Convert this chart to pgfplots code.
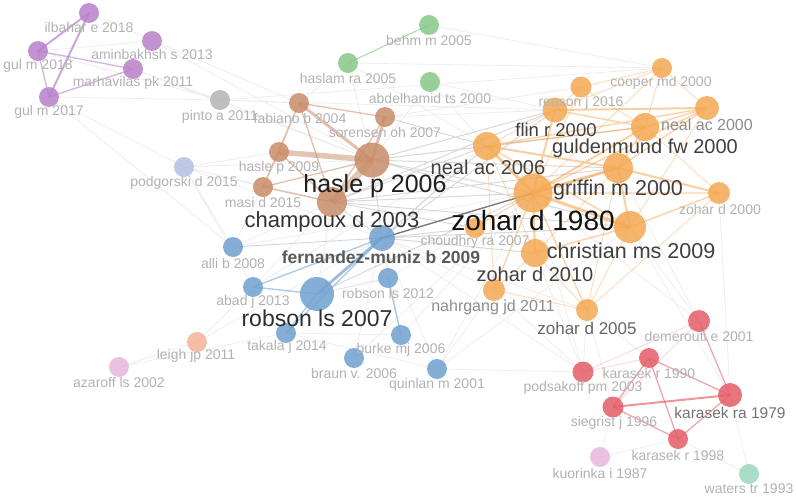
\documentclass[border=0pt]{standalone}
\usepackage{pgfplots}
\usepackage{pgfplotstable}
\pgfplotsset{compat=1.18}
\usepackage{fontspec}
\setmainfont{Liberation Sans}
\definecolor{cpur}{RGB}{183,128,200}
\definecolor{cbrn}{RGB}{200,140,105}
\definecolor{cgrn}{RGB}{135,200,135}
\definecolor{corg}{RGB}{245,168,82}
\definecolor{cblu}{RGB}{112,160,208}
\definecolor{cred}{RGB}{228,92,102}
\definecolor{cgry}{RGB}{180,180,180}
\definecolor{clav}{RGB}{180,190,225}
\definecolor{csal}{RGB}{245,178,152}
\definecolor{cpnk}{RGB}{232,182,222}
\definecolor{cmnt}{RGB}{155,215,192}

\pgfplotstableread{
x y r
89 13 10
152 41 10
38 51 10
133 69 10
49 97 10
}\tPur
\pgfplotstableread{
x y r
220 100 10
}\tGry
\pgfplotstableread{
x y r
184 167 10
}\tLav
\pgfplotstableread{
x y r
299 103 10
385 117 10
279 152 10
263 187 10
372 160 17.5
332 202 15
}\tBrn
\pgfplotstableread{
x y r
429 25 10
348 63 10
430 82 10
}\tGrn
\pgfplotstableread{
x y r
662 68 10
581 87 10.5
707 108 12
555 110 12.5
645 127 14
487 146 14
618 168 15
533 193 19.5
719 193 11
630 227 16
475 228 10
535 253 14
494 290 11
587 310 11
}\tOrg
\pgfplotstableread{
x y r
382 238 13
233 247 10
253 287 10
317 294 17
388 278 10
286 333 10
401 335 10
354 358 10
437 369 10
}\tBlu
\pgfplotstableread{
x y r
197 342 10
}\tSal
\pgfplotstableread{
x y r
119 367 10
600 457 10
}\tPnk
\pgfplotstableread{
x y r
699 321 11
649 358 10
583 372 10.5
730 395 12
613 407 10.5
678 439 10
}\tRed
\pgfplotstableread{
x y r
749 474 10
}\tMnt

\pgfplotsset{
  netnode/.style={scatter, only marks, mark=*, point meta=\thisrow{r},
    scatter/use mapped color={draw=#1, fill=#1, draw opacity=0, fill opacity=0.85},
    visualization depends on={\thisrow{r} \as \perr},
    scatter/@pre marker code/.append style={/tikz/mark size=\perr}},
  lab/.style n args={3}{only marks, mark=*, mark size=0pt,
    mark options={draw=none, fill=none},
    point meta=explicit symbolic, nodes near coords,
    nodes near coords style={anchor=center, inner sep=0pt,
      font=\fontsize{#1}{#1}\fontseries{#3}\selectfont, text=black!#2}},
}

\begin{document}
\begin{tikzpicture}
\begin{axis}[width=796pt, height=498pt, scale only axis,
  xmin=0, xmax=796, ymin=0, ymax=498, y dir=reverse,
  hide axis, clip=false, unbounded coords=jump]

% faint grey links
\addplot[no marks, gray, opacity=0.14, line width=0.8pt] coordinates {
(220,100) (372,160) (nan,nan) (220,100) (49,97) (nan,nan) (220,100) (299,103) (nan,nan)
(220,100) (662,68) (nan,nan) (184,167) (332,202) (nan,nan) (184,167) (263,187) (nan,nan)
(184,167) (372,160) (nan,nan) (184,167) (253,287) (nan,nan) (184,167) (233,247) (nan,nan)
(184,167) (49,97) (nan,nan) (233,247) (332,202) (nan,nan) (233,247) (382,238) (nan,nan)
(197,342) (253,287) (nan,nan) (197,342) (119,367) (nan,nan) (197,342) (382,238) (nan,nan)
(119,367) (286,333) (nan,nan) (152,41) (372,160) (nan,nan) (133,69) (372,160) (nan,nan)
(133,69) (220,100) (nan,nan) (49,97) (233,247) (nan,nan) (348,63) (372,160) (nan,nan)
(348,63) (299,103) (nan,nan) (348,63) (487,146) (nan,nan) (429,25) (662,68) (nan,nan)
(430,82) (487,146) (nan,nan) (430,82) (372,160) (nan,nan) (430,82) (555,110) (nan,nan)
(385,117) (555,110) (nan,nan) (385,117) (581,87) (nan,nan) (437,369) (382,238) (nan,nan)
(437,369) (533,193) (nan,nan) (354,358) (382,238) (nan,nan) (401,335) (382,238) (nan,nan)
(401,335) (533,193) (nan,nan) (286,333) (437,369) (nan,nan) (286,333) (401,335) (nan,nan)
(583,372) (533,193) (nan,nan) (583,372) (535,253) (nan,nan) (583,372) (494,290) (nan,nan)
(583,372) (382,238) (nan,nan) (699,321) (533,193) (nan,nan) (699,321) (618,168) (nan,nan)
(699,321) (630,227) (nan,nan) (730,395) (630,227) (nan,nan) (730,395) (719,193) (nan,nan)
(613,407) (587,310) (nan,nan) (649,358) (587,310) (nan,nan) (600,457) (678,439) (nan,nan)
(600,457) (613,407) (nan,nan) (749,474) (678,439) (nan,nan) (749,474) (730,395) (nan,nan)
(437,369) (583,372) (nan,nan) (494,290) (382,238) (nan,nan) (587,310) (382,238) (nan,nan)
(388,278) (533,193) (nan,nan) (388,278) (382,238) (nan,nan) (317,294) (332,202) (nan,nan)
(253,287) (332,202) (nan,nan) (263,187) (233,247) (nan,nan) (279,152) (184,167) (nan,nan)
(494,290) (437,369) (nan,nan) (587,310) (583,372) (nan,nan) (152,41) (38,51) (nan,nan)
(89,13) (299,103) (nan,nan) (38,51) (220,100) (nan,nan) (348,63) (662,68) (nan,nan)
(220,100) (555,110) (nan,nan) (184,167) (382,238) (nan,nan) (233,247) (533,193) (nan,nan)
(253,287) (487,146) (nan,nan) (354,358) (533,193) (nan,nan) (437,369) (630,227)
};
% medium grey links
\addplot[no marks, gray, opacity=0.3, line width=1pt] coordinates {
(332,202) (533,193) (nan,nan) (372,160) (533,193) (nan,nan) (372,160) (487,146) (nan,nan)
(332,202) (487,146) (nan,nan) (382,238) (487,146) (nan,nan) (382,238) (630,227) (nan,nan)
(382,238) (618,168) (nan,nan) (372,160) (618,168) (nan,nan) (332,202) (475,228) (nan,nan)
(382,238) (475,228) (nan,nan) (382,238) (535,253) (nan,nan) (332,202) (555,110) (nan,nan)
(372,160) (555,110) (nan,nan) (382,238) (372,160) (nan,nan) (382,238) (332,202) (nan,nan)
(317,294) (533,193) (nan,nan) (332,202) (618,168) (nan,nan) (372,160) (630,227) (nan,nan)
(382,238) (555,110) (nan,nan) (372,160) (645,127) (nan,nan) (332,202) (630,227) (nan,nan)
(385,117) (487,146) (nan,nan) (317,294) (487,146)
};
\addplot[no marks, black, opacity=0.45, line width=1.4pt] coordinates {(382,238) (533,193)};

% purple links
\addplot[no marks, cpur, opacity=0.7, line width=2pt] coordinates {
(89,13) (38,51) (nan,nan) (89,13) (49,97)};
\addplot[no marks, cpur, opacity=0.6, line width=1.3pt] coordinates {
(38,51) (49,97) (nan,nan) (49,97) (133,69) (nan,nan) (38,51) (133,69)};
% brown links
\addplot[no marks, cbrn, opacity=0.5, line width=7pt] coordinates {(332,202) (372,160)};
\addplot[no marks, cbrn, opacity=0.5, line width=5.5pt] coordinates {(279,152) (372,160)};
\addplot[no marks, cbrn, opacity=0.55, line width=3pt] coordinates {
(299,103) (372,160) (nan,nan) (385,117) (372,160)};
\addplot[no marks, cbrn, opacity=0.55, line width=1.3pt] coordinates {
(299,103) (385,117) (nan,nan) (299,103) (279,152) (nan,nan) (299,103) (263,187) (nan,nan)
(299,103) (332,202) (nan,nan) (385,117) (332,202) (nan,nan) (263,187) (372,160) (nan,nan)
(263,187) (332,202) (nan,nan) (279,152) (263,187) (nan,nan) (279,152) (332,202)};
% green link
\addplot[no marks, cgrn, opacity=0.7, line width=1pt] coordinates {(348,63) (429,25)};
% blue links
\addplot[no marks, cblu, opacity=0.6, line width=3pt] coordinates {(382,238) (317,294)};
\addplot[no marks, cblu, opacity=0.55, line width=1.4pt] coordinates {
(382,238) (253,287) (nan,nan) (253,287) (317,294) (nan,nan) (317,294) (286,333) (nan,nan)
(286,333) (382,238) (nan,nan) (388,278) (401,335)};
\addplot[no marks, cblu, opacity=0.3, line width=0.8pt] coordinates {
(382,238) (233,247) (nan,nan) (317,294) (388,278)};
% red links
\addplot[no marks, cred, opacity=0.65, line width=2pt] coordinates {(613,407) (730,395)};
\addplot[no marks, cred, opacity=0.55, line width=1.3pt] coordinates {
(649,358) (730,395) (nan,nan) (649,358) (613,407) (nan,nan) (699,321) (730,395) (nan,nan)
(649,358) (678,439) (nan,nan) (613,407) (678,439) (nan,nan) (678,439) (730,395)};
\addplot[no marks, cred, opacity=0.25, line width=0.8pt] coordinates {
(699,321) (613,407) (nan,nan) (583,372) (649,358) (nan,nan) (699,321) (583,372)};
% orange links
\addplot[no marks, corg, opacity=0.6, line width=3pt] coordinates {
(533,193) (487,146) (nan,nan) (533,193) (618,168) (nan,nan) (533,193) (630,227)};
\addplot[no marks, corg, opacity=0.55, line width=2pt] coordinates {
(533,193) (555,110) (nan,nan) (533,193) (645,127) (nan,nan) (533,193) (535,253) (nan,nan)
(487,146) (618,168) (nan,nan) (555,110) (707,108) (nan,nan) (618,168) (630,227) (nan,nan)
(618,168) (719,193)};
\addplot[no marks, corg, opacity=0.5, line width=1.4pt] coordinates {
(533,193) (587,310) (nan,nan) (533,193) (494,290) (nan,nan) (533,193) (719,193) (nan,nan)
(533,193) (707,108) (nan,nan) (487,146) (630,227) (nan,nan) (487,146) (645,127) (nan,nan)
(487,146) (707,108) (nan,nan) (555,110) (645,127) (nan,nan) (618,168) (645,127) (nan,nan)
(618,168) (707,108) (nan,nan) (630,227) (535,253) (nan,nan) (630,227) (719,193) (nan,nan)
(645,127) (707,108)};
\addplot[no marks, corg, opacity=0.4, line width=0.9pt] coordinates {
(533,193) (475,228) (nan,nan) (533,193) (581,87) (nan,nan) (533,193) (662,68) (nan,nan)
(487,146) (555,110) (nan,nan) (487,146) (535,253) (nan,nan) (555,110) (581,87) (nan,nan)
(630,227) (587,310) (nan,nan) (535,253) (587,310) (nan,nan) (535,253) (494,290) (nan,nan)
(662,68) (645,127) (nan,nan) (662,68) (581,87) (nan,nan) (662,68) (707,108) (nan,nan)
(645,127) (719,193) (nan,nan) (630,227) (707,108) (nan,nan) (494,290) (587,310) (nan,nan)
(535,253) (618,168) (nan,nan) (587,310) (618,168) (nan,nan) (487,146) (494,290) (nan,nan)
(662,68) (555,110) (nan,nan) (581,87) (645,127) (nan,nan) (587,310) (719,193)};

% nodes
\addplot[netnode=cpur] table {\tPur};
\addplot[netnode=cgry] table {\tGry};
\addplot[netnode=clav] table {\tLav};
\addplot[netnode=cbrn] table {\tBrn};
\addplot[netnode=cgrn] table {\tGrn};
\addplot[netnode=corg] table {\tOrg};
\addplot[netnode=cblu] table {\tBlu};
\addplot[netnode=csal] table {\tSal};
\addplot[netnode=cpnk] table {\tPnk};
\addplot[netnode=cred] table {\tRed};
\addplot[netnode=cmnt] table {\tMnt};

% labels
\addplot[lab={14}{30}{m}] coordinates {
(89,27) [ilbahar e 2018] (152,54) [aminbakhsh s 2013] (38,66) [gul m 2018]
(133,83) [marhavilas pk 2011] (49,112) [gul m 2017] (220,117) [pinto a 2011]
(184,183) [podgorski d 2015] (300,118) [fabiano b 2004] (385,132) [sorensen oh 2007]
(279,168) [hasle p 2009] (263,202) [masi d 2015] (429,40) [behm m 2005]
(348,78) [haslam ra 2005] (430,98) [abdelhamid ts 2000] (661,83) [cooper md 2000]
(581,103) [reason j 2016] (720,209) [zohar d 2000] (475,242) [choudhry ra 2007]
(233,263) [alli b 2008] (253,302) [abad j 2013] (388,293) [robson ls 2012]
(287,347) [takala j 2014] (401,350) [burke mj 2006] (354,373) [braun v. 2006]
(437,385) [quinlan m 2001] (196,356) [leigh jp 2011] (119,382) [azaroff ls 2002]
(600,473) [kuorinka i 1987] (699,336) [demerouti e 2001] (649,373) [karasek r 1990]
(583,388) [podsakoff pm 2003] (614,423) [siegrist j 1996] (678,455) [karasek r 1998]
(749,489) [waters tr 1993]};
\addplot[lab={16}{45}{m}] coordinates {(707,125) [neal ac 2000] (493,307) [nahrgang jd 2011]};
\addplot[lab={15.5}{55}{m}] coordinates {(730,413) [karasek ra 1979]};
\addplot[lab={17}{60}{m}] coordinates {(587,328) [zohar d 2005]};
\addplot[lab={18.5}{75}{m}] coordinates {(556,130) [flin r 2000]};
\addplot[lab={20}{75}{m}] coordinates {(645,148) [guldenmund fw 2000] (488,167) [neal ac 2006] (535,274) [zohar d 2010]};
\addplot[lab={21.5}{75}{m}] coordinates {(618,190) [griffin m 2000] (631,251) [christian ms 2009]};
\addplot[lab={22}{80}{m}] coordinates {(332,222) [champoux d 2003]};
\addplot[lab={23}{82}{m}] coordinates {(317,318) [robson ls 2007]};
\addplot[lab={25}{88}{m}] coordinates {(375,186) [hasle p 2006]};
\addplot[lab={28}{93}{m}] coordinates {(533,220) [zohar d 1980]};
\addplot[lab={17.5}{65}{b}] coordinates {(381,257) [fernandez-muniz b 2009]};
\end{axis}
\pgfresetboundingbox
\path[use as bounding box] (current axis.south west) rectangle (current axis.north east);
\end{tikzpicture}
\end{document}
